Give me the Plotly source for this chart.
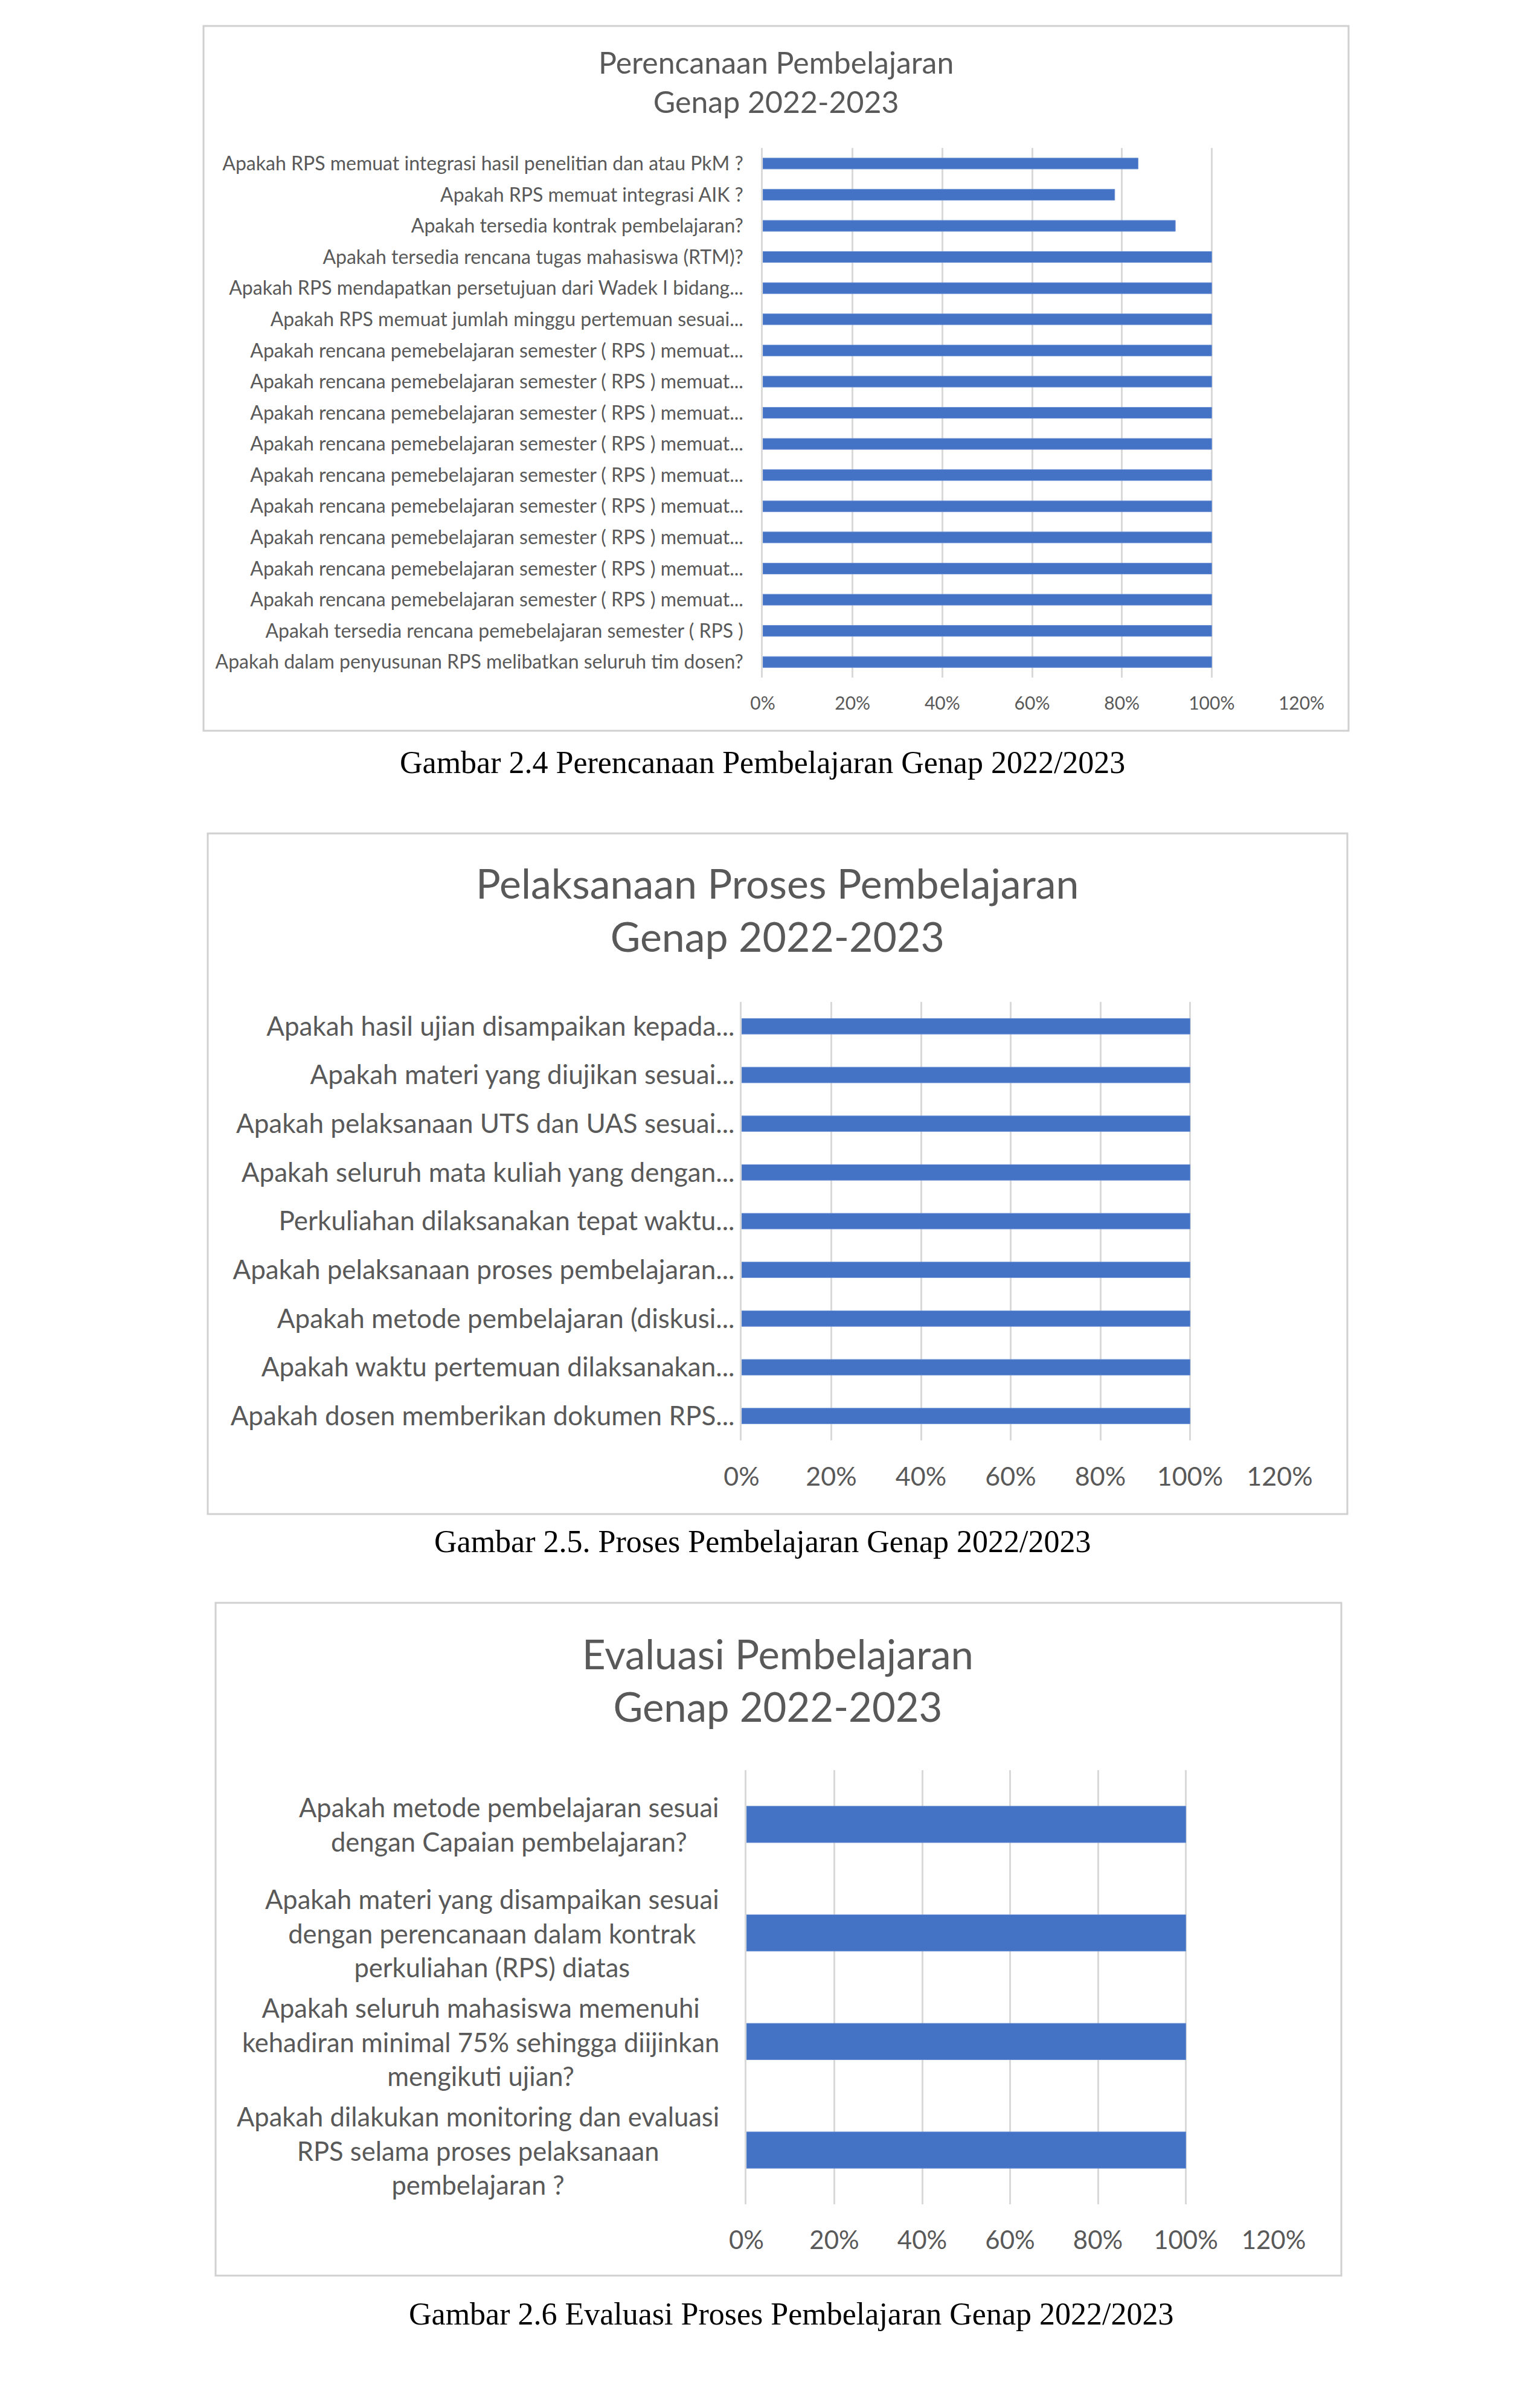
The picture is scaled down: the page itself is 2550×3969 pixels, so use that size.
import plotly.graph_objects as go

W, H = 2550, 3969

# ---------------- data ----------------
plan_labels = [
    "Apakah RPS memuat integrasi hasil penelitian dan atau PkM ?",
    "Apakah RPS memuat integrasi AIK ?",
    "Apakah tersedia kontrak pembelajaran?",
    "Apakah tersedia rencana tugas mahasiswa (RTM)?",
    "Apakah RPS mendapatkan persetujuan dari Wadek I bidang...",
    "Apakah RPS memuat jumlah minggu pertemuan sesuai...",
    "Apakah rencana pemebelajaran semester ( RPS ) memuat...",
    "Apakah rencana pemebelajaran semester ( RPS ) memuat...",
    "Apakah rencana pemebelajaran semester ( RPS ) memuat...",
    "Apakah rencana pemebelajaran semester ( RPS ) memuat...",
    "Apakah rencana pemebelajaran semester ( RPS ) memuat...",
    "Apakah rencana pemebelajaran semester ( RPS ) memuat...",
    "Apakah rencana pemebelajaran semester ( RPS ) memuat...",
    "Apakah rencana pemebelajaran semester ( RPS ) memuat...",
    "Apakah rencana pemebelajaran semester ( RPS ) memuat...",
    "Apakah tersedia rencana pemebelajaran semester ( RPS )",
    "Apakah dalam penyusunan RPS melibatkan seluruh tim dosen?",
]
plan_values = [0.836, 0.784, 0.919, 1, 1, 1, 1, 1, 1, 1, 1, 1, 1, 1, 1, 1, 1]

proc_labels = [
    "Apakah hasil ujian disampaikan kepada...",
    "Apakah materi yang diujikan sesuai...",
    "Apakah pelaksanaan UTS dan UAS sesuai...",
    "Apakah seluruh mata kuliah yang dengan...",
    "Perkuliahan dilaksanakan tepat waktu...",
    "Apakah pelaksanaan proses pembelajaran...",
    "Apakah metode pembelajaran (diskusi...",
    "Apakah waktu pertemuan dilaksanakan...",
    "Apakah dosen memberikan dokumen RPS...",
]
proc_values = [1, 1, 1, 1, 1, 1, 1, 1, 1]

eval_labels = [
    "Apakah metode pembelajaran sesuai<br>dengan Capaian pembelajaran?",
    "Apakah materi yang disampaikan sesuai<br>dengan perencanaan dalam kontrak<br>perkuliahan (RPS) diatas",
    "Apakah seluruh mahasiswa memenuhi<br>kehadiran minimal 75% sehingga diijinkan<br>mengikuti ujian?",
    "Apakah dilakukan monitoring dan evaluasi<br>RPS selama proses pelaksanaan<br>pembelajaran ?",
]
eval_values = [1, 1, 1, 1]

x_ticks = [0, 0.2, 0.4, 0.6, 0.8, 1.0, 1.2]

titles = [
    "Perencanaan Pembelajaran<br>Genap 2022-2023",
    "Pelaksanaan Proses Pembelajaran<br>Genap 2022-2023",
    "Evaluasi Pembelajaran<br>Genap 2022-2023",
]
captions = [
    "Gambar 2.4 Perencanaan Pembelajaran Genap 2022/2023",
    "Gambar 2.5. Proses Pembelajaran Genap 2022/2023",
    "Gambar 2.6 Evaluasi Proses Pembelajaran Genap 2022/2023",
]

# ---------------- styling / layout ----------------
BAR = "#4472C4"
GRID = "#d9d9d9"
TXT = "#595959"
FONT = "Lato"


def px(x):
    return x / W


def py(y):
    return 1 - y / H


fig = go.Figure()

charts = [
    dict(labels=plan_labels, values=plan_values, xdom=(1263, 2155), ydom=(245, 1122),
         width=0.35, fs=32, tfs=30, standoff_y=23, standoff_x=22, ticklabels=True,
         box=(337, 43, 2233, 1210), title_xy=(1285, 135), title_fs=50,
         cap_xy=(1262, 1263)),
    dict(labels=proc_labels, values=proc_values, xdom=(1228, 2119), ydom=(1659, 2385),
         width=0.32, fs=44, tfs=43, standoff_y=0, standoff_x=31, ticklabels=True,
         box=(344, 1380, 2231, 2507), title_xy=(1287, 1505), title_fs=68,
         cap_xy=(1262, 2552)),
    dict(labels=eval_labels, values=eval_values, xdom=(1236, 2109), ydom=(2931, 3650),
         width=0.335, fs=43.5, tfs=42, standoff_y=8, standoff_x=31, ticklabels=False,
         box=(357, 2654, 2221, 3768), title_xy=(1288, 2781), title_fs=67,
         cap_xy=(1310, 3831)),
]

shapes = []
annotations = []

for i, c in enumerate(charts):
    k = "" if i == 0 else str(i + 1)
    n = len(c["labels"])
    idx = list(range(n))
    fig.add_trace(go.Bar(
        x=c["values"], y=idx, orientation="h", width=c["width"],
        marker=dict(color=BAR, line=dict(color="#6a8fd3", width=1)),
        xaxis="x" + k, yaxis="y" + k, showlegend=False, hoverinfo="x+y",
    ))
    fig.update_layout(**{
        "xaxis" + k: dict(
            domain=[px(c["xdom"][0]), px(c["xdom"][1])], range=[0, 1.2],
            tickvals=x_ticks, tickformat=".0%", showgrid=True, gridcolor=GRID,
            gridwidth=2.5, zeroline=False, showline=False, ticks="",
            ticklabelstandoff=c["standoff_x"],
            tickfont=dict(family=FONT, size=c["tfs"], color=TXT),
            anchor="y" + k, automargin=False, fixedrange=True,
        ),
        "yaxis" + k: dict(
            domain=[py(c["ydom"][1]), py(c["ydom"][0])], range=[n - 0.5, -0.5],
            tickvals=idx, ticktext=c["labels"], showticklabels=c["ticklabels"],
            showgrid=False, zeroline=False, showline=True, linecolor=GRID,
            linewidth=2.5, ticks="", ticklabelstandoff=c["standoff_y"],
            tickfont=dict(family=FONT, size=c["fs"], color=TXT),
            anchor="x" + k, automargin=False, fixedrange=True,
        ),
    })
    x0, y0, x1, y1 = c["box"]
    shapes.append(dict(type="rect", xref="paper", yref="paper",
                       x0=px(x0), x1=px(x1), y0=py(y1), y1=py(y0),
                       line=dict(color="#d0d0d0", width=3), fillcolor="rgba(0,0,0,0)",
                       layer="below"))
    tx, ty = c["title_xy"]
    annotations.append(dict(text=titles[i], xref="paper", yref="paper", x=px(tx), y=py(ty),
                            xanchor="center", yanchor="middle", showarrow=False,
                            font=dict(family=FONT, size=c["title_fs"], color=TXT)))
    cx, cy = c["cap_xy"]
    annotations.append(dict(text=captions[i], xref="paper", yref="paper", x=px(cx), y=py(cy),
                            xanchor="center", yanchor="middle", showarrow=False,
                            font=dict(family="Liberation Serif", size=52, color="#000000")))
    if not c["ticklabels"]:
        for j, lab in enumerate(c["labels"]):
            annotations.append(dict(text=lab, xref="paper", yref="y" + k, x=px(1193), y=j,
                                    xanchor="right", yanchor="middle", align="center",
                                    showarrow=False,
                                    font=dict(family=FONT, size=c["fs"], color=TXT)))

fig.update_layout(
    width=W, height=H, autosize=False,
    margin=dict(l=0, r=0, t=0, b=0, pad=0),
    paper_bgcolor="white", plot_bgcolor="white",
    template="none", shapes=shapes, annotations=annotations,
    showlegend=False,
)

fig.write_html("out.html")
